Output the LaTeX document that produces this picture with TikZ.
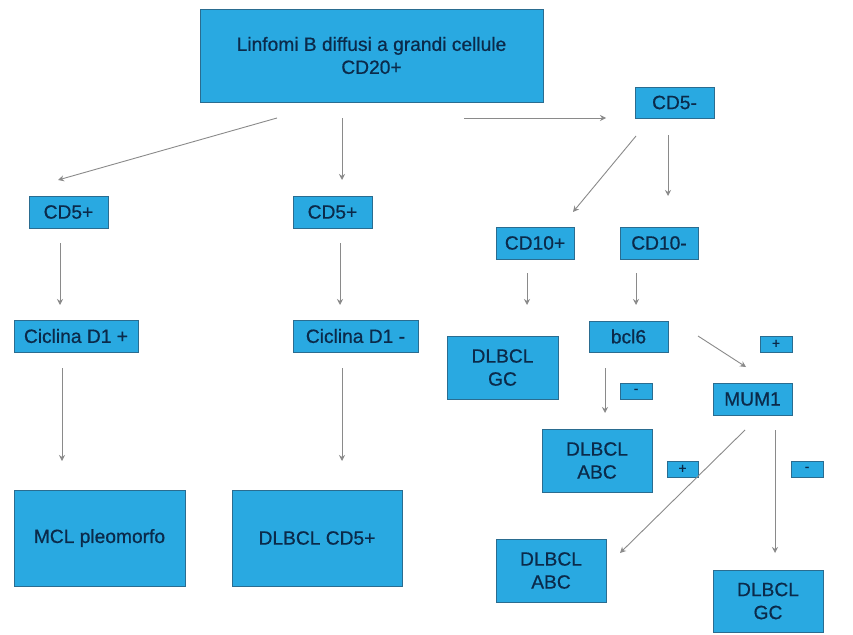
\documentclass[tikz,border=0pt]{standalone}
\usepackage{fontspec}
\setmainfont{Liberation Sans}
\newfontfamily\boxfont[FakeBold=0.6]{Liberation Sans}
\usetikzlibrary{arrows.meta}
\definecolor{boxfill}{HTML}{29A9E1}
\definecolor{boxline}{HTML}{2A6C90}
\definecolor{boxtext}{HTML}{0B2A4A}
\definecolor{arrowgray}{HTML}{8A8A8A}
\tikzset{
  box/.style={draw=boxline, line width=0.8pt, fill=boxfill, text=boxtext, inner sep=0pt, align=center,
    font=\boxfont\fontsize{19.2}{23}\selectfont},
  sign/.style={box, font=\boxfont\fontsize{14}{16}\selectfont},
  conn/.style={draw=arrowgray, line width=0.9pt, -{Stealth[length=6pt,width=6pt]}}
}
\newcommand{\bx}[6]{\node[#1, minimum width={#4-#2}, minimum height={#5-#3}] (#6) at ({(#2+#4)/2},{(#3+#5)/2})}
\begin{document}
\begin{tikzpicture}[x=1pt,y=-1pt]
\useasboundingbox (0,0) rectangle (853,634);
% boxes
\bx{box}{200}{9}{543}{102}{top} {Linfomi B diffusi a grandi cellule\\CD20+};
\bx{box}{635}{87}{714}{118}{cdfivem} {CD5-};
\bx{box}{29}{196}{108}{228}{cdfivepa} {CD5+};
\bx{box}{293}{196}{372}{228}{cdfivepb} {CD5+};
\bx{box}{496}{227}{574}{259}{cdtenp} {CD10+};
\bx{box}{620}{227}{698}{259}{cdtenm} {CD10-};
\bx{box}{14}{320}{138}{352}{cicp} {Ciclina D1 +};
\bx{box}{293}{320}{418}{352}{cicm} {Ciclina D1 -};
\bx{box}{589}{321}{668}{352}{bcl} {bcl6};
\bx{box}{447}{336}{558}{399}{gca} {DLBCL\\GC};
\bx{box}{713}{383}{792}{415}{mum} {MUM1};
\bx{box}{542}{429}{652}{492}{abca} {DLBCL\\ABC};
\bx{box}{496}{539}{606}{602}{abcb} {DLBCL\\ABC};
\bx{box}{713}{570}{823}{632}{gcb} {DLBCL\\GC};
\bx{box}{14}{490}{185}{586}{mcl} {MCL pleomorfo};
\bx{box}{232}{490}{402}{586}{dcd} {DLBCL CD5+};
% signs
\bx{sign}{760}{336}{792}{352}{sa} {+};
\bx{sign}{620}{383}{652}{399}{sb} {-};
\bx{sign}{667}{461}{698}{477}{sc} {+};
\bx{sign}{791}{461}{823}{477}{sd} {-};
% arrow end points
\coordinate (t1s) at (277,118); \coordinate (t1e) at (58,180);
\coordinate (t2s) at (342,118); \coordinate (t2e) at (342,180);
\coordinate (t3s) at (464,118); \coordinate (t3e) at (606,118);
\coordinate (c1s) at (636,136); \coordinate (c1e) at (573,212);
\coordinate (c2s) at (668,135); \coordinate (c2e) at (668,196);
\coordinate (a1s) at (60,243); \coordinate (a1e) at (60,305);
\coordinate (a2s) at (340,243); \coordinate (a2e) at (340,305);
\coordinate (b1s) at (527,273); \coordinate (b1e) at (527,305);
\coordinate (b2s) at (636,273); \coordinate (b2e) at (636,305);
\coordinate (d1s) at (62,368); \coordinate (d1e) at (62,461);
\coordinate (d2s) at (342,368); \coordinate (d2e) at (342,461);
\coordinate (e1s) at (698,336); \coordinate (e1e) at (746,367);
\coordinate (e2s) at (605,368); \coordinate (e2e) at (605,413);
\coordinate (f1s) at (745,430); \coordinate (f1e) at (620,553);
\coordinate (f2s) at (775,430); \coordinate (f2e) at (775,553);
% connectors
\foreach \p in {t1,t2,t3,c1,c2,a1,a2,b1,b2,d1,d2,e1,e2,f1,f2}
  \draw[conn] (\p s) -- (\p e);
\end{tikzpicture}
\end{document}
